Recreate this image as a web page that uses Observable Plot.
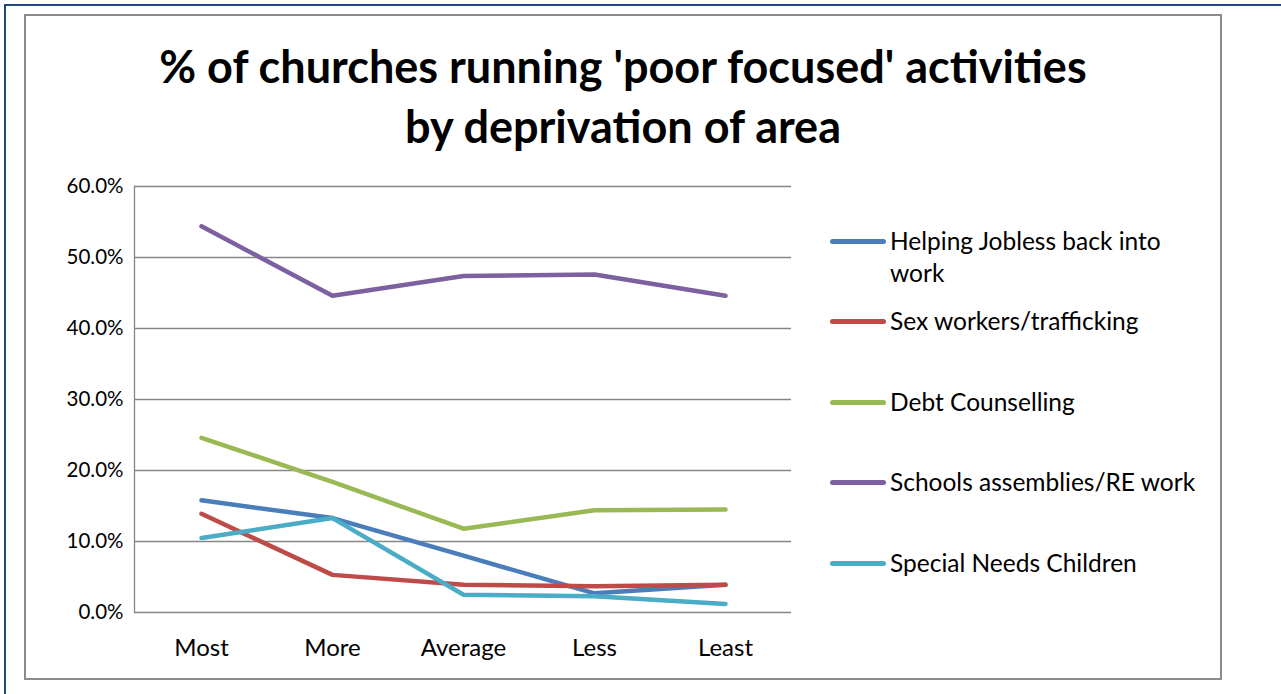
<!DOCTYPE html>
<html>
<head>
<meta charset="utf-8">
<script src="https://cdn.jsdelivr.net/npm/d3@7"></script>
<script src="https://cdn.jsdelivr.net/npm/@observablehq/plot@0.6"></script>
<style>
  html, body { margin: 0; padding: 0; background: #fff; }
  #wrap { position: relative; width: 1281px; height: 694px; overflow: hidden; font-family: Lato, "Open Sans", sans-serif; color: #000; }
  #outer { position: absolute; left: 4px; top: 4px; width: 1300px; height: 720px; border-left: 2px solid #1f497d; border-top: 2px solid #1f497d; box-sizing: border-box; }
  #inner { position: absolute; left: 24px; top: 14px; width: 1198px; height: 666px; border: 2px solid #8c8c8c; box-sizing: border-box; }
  #title { position: absolute; left: 0; width: 1246px; top: 36px; text-align: center; font-weight: bold; font-size: 45px; line-height: 60px; }
  #chart { position: absolute; left: 0; top: 0; }
  .leg { position: absolute; left: 830px; font-size: 24.5px; line-height: 32px; }
  .leg .sw { position: absolute; left: 0; top: 14px; width: 56px; height: 5px; border-radius: 3px; }
  .leg .tx { position: absolute; left: 60px; top: 0; width: 312px; }
</style>
</head>
<body>
<div id="wrap">
  <div id="outer"></div>
  <div id="inner"></div>
  <div id="chart"></div>
  <div id="title">% of churches running 'poor focused' activities<br>by deprivation of area</div>
  <div id="legend"></div>
</div>
<script>
const categories = ["Most", "More", "Average", "Less", "Least"];
const seriesNames = ["Helping Jobless back into work", "Sex workers/trafficking", "Debt Counselling", "Schools assemblies/RE work", "Special Needs Children"];
const seriesColors = ["#4a7ebb", "#be4b48", "#98b954", "#7d60a0", "#4bacc6"];
const jobless = [15.8, 13.3, 8.0, 2.7, 3.9];
const sexWork = [13.9, 5.3, 3.9, 3.7, 3.9];
const debt = [24.6, 18.4, 11.8, 14.4, 14.5];
const schools = [54.4, 44.6, 47.4, 47.6, 44.6];
const specialNeeds = [10.5, 13.3, 2.5, 2.3, 1.2];
const yTicks = [0, 10, 20, 30, 40, 50, 60];

const seriesValues = [jobless, sexWork, debt, schools, specialNeeds];
const rows = [];
seriesValues.forEach((vals, i) => {
  vals.forEach((v, j) => rows.push({series: seriesNames[i], cat: categories[j], value: v}));
});

const chart = Plot.plot({
  width: 1281,
  height: 694,
  marginLeft: 134,
  marginRight: 490,
  marginTop: 186,
  marginBottom: 82,
  style: {background: "transparent", fontFamily: "Lato, 'Open Sans', sans-serif", fontSize: "21px", color: "#000"},
  x: {type: "point", domain: categories, padding: 0.5, label: null},
  y: {domain: [0, 60], label: null},
  color: {domain: seriesNames, range: seriesColors},
  marks: [
    Plot.ruleY(yTicks, {stroke: "#868686", strokeWidth: 1.3, strokeOpacity: 1}),
    Plot.frame({anchor: "left", stroke: "#868686", strokeWidth: 1.3}),
    Plot.axisY(yTicks, {tickSize: 0, tickPadding: 11, tickFormat: d => d.toFixed(1) + "%", fontSize: 20.5, fill: "#000"}),
    Plot.axisX({tickSize: 0, tickPadding: 26, fontSize: 24, fill: "#000"}),
    Plot.line(rows, {x: "cat", y: "value", z: "series", stroke: "series", strokeWidth: 4.5, strokeLinecap: "round", strokeLinejoin: "round"})
  ]
});
document.getElementById("chart").appendChild(chart);

const legendCenters = [241, 321, 401.7, 482.3, 562.7];
const legend = document.getElementById("legend");
seriesNames.forEach((name, i) => {
  const d = document.createElement("div");
  d.className = "leg";
  d.style.top = (legendCenters[i] - 16) + "px";
  const sw = document.createElement("div");
  sw.className = "sw";
  sw.style.background = seriesColors[i];
  const tx = document.createElement("div");
  tx.className = "tx";
  tx.textContent = name;
  d.appendChild(sw);
  d.appendChild(tx);
  legend.appendChild(d);
});
</script>
</body>
</html>
